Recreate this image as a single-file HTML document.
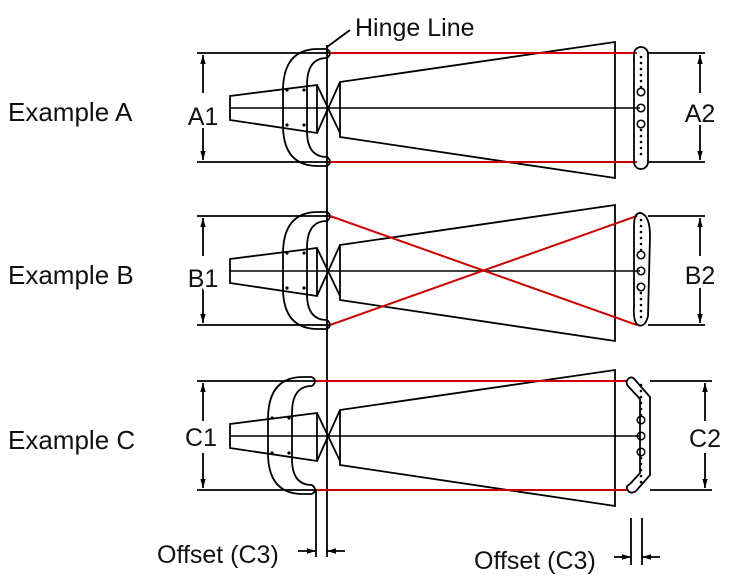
<!DOCTYPE html>
<html><head><style>body{margin:0;background:#fff}svg{display:block}text{font-family:"Liberation Sans",sans-serif;font-size:25px;fill:#111}</style></head>
<body>
<svg width="730" height="578" viewBox="0 0 730 578" xmlns="http://www.w3.org/2000/svg">
<defs>
<marker id="ar" viewBox="0 0 10 10" refX="10" refY="5" markerWidth="9" markerHeight="9" orient="auto-start-reverse" markerUnits="userSpaceOnUse"><path d="M0,2 L10,5 L0,8z" fill="#000"/></marker>
<g id="left">
 <line x1="197" y1="0" x2="330" y2="0" stroke="#000" stroke-width="1.8"/>
 <line x1="197" y1="109" x2="330" y2="109" stroke="#000" stroke-width="1.8"/>
 <line x1="203" y1="2" x2="203" y2="40" stroke="#000" stroke-width="1.8" marker-start="url(#ar)"/>
 <line x1="203" y1="72" x2="203" y2="107" stroke="#000" stroke-width="1.8" marker-end="url(#ar)"/>
 <path d="M230,43 L317,32 L317,80 L230,67 Z" fill="none" stroke="#000" stroke-width="1.8"/>
 <line x1="230" y1="55" x2="640" y2="55" stroke="#000" stroke-width="1.5"/>
 <path d="M317,32 L340,80 M317,80 L340,29" fill="none" stroke="#000" stroke-width="1.8"/>
 <path d="M340,29 L615,-11 L615,125 L340,84 Z" fill="none" stroke="#000" stroke-width="1.8"/>
</g>
<g id="br">
 <path d="M327,-4 L318,-4 Q283,-4 283,38 L283,72 Q283,113 318,113 L327,113" fill="none" stroke="#000" stroke-width="1.8"/>
 <path d="M327,5 Q307,5 307,32 L307,78 Q307,104 327,104" fill="none" stroke="#000" stroke-width="1.8"/>
 <path d="M327,-4 Q333,0 327,5 M327,104 Q333,109 327,113" fill="none" stroke="#000" stroke-width="1.8"/>
 <circle cx="287" cy="37" r="1.6"/><circle cx="304" cy="37" r="1.6"/><circle cx="287" cy="72" r="1.6"/><circle cx="304" cy="72" r="1.6"/>
</g>
<g id="dots">
 <g fill="#000"><circle cx="641" cy="4" r="1.3"/><circle cx="641" cy="10" r="1.3"/><circle cx="641" cy="16" r="1.3"/><circle cx="641" cy="22" r="1.3"/><circle cx="641" cy="28" r="1.3"/><circle cx="641" cy="34" r="1.3"/>
 <circle cx="641" cy="77" r="1.3"/><circle cx="641" cy="83" r="1.3"/><circle cx="641" cy="89" r="1.3"/><circle cx="641" cy="95" r="1.3"/><circle cx="641" cy="101" r="1.3"/></g>
 <g fill="none" stroke="#000" stroke-width="1.5"><circle cx="641" cy="39" r="3.8"/><circle cx="641" cy="55" r="3.8"/><circle cx="641" cy="71" r="3.8"/></g>
</g>
</defs>

<line x1="327" y1="45" x2="327" y2="557" stroke="#000" stroke-width="1.8"/>
<path d="M327,53 L327,47 L350,30" fill="none" stroke="#000" stroke-width="1.8"/>
<text x="355" y="36">Hinge Line</text>

<g transform="translate(0,53)">
 <use href="#left"/><use href="#br"/><use href="#dots"/>
 <line x1="330" y1="0" x2="637" y2="0" stroke="#c00" stroke-width="2"/>
 <line x1="330" y1="109" x2="637" y2="109" stroke="#c00" stroke-width="2"/>
 <rect x="634" y="-6" width="14" height="122" rx="7" fill="none" stroke="#000" stroke-width="1.8"/>
 <line x1="648" y1="0" x2="705" y2="0" stroke="#000" stroke-width="1.8"/>
 <line x1="648" y1="109" x2="705" y2="109" stroke="#000" stroke-width="1.8"/>
 <line x1="700" y1="2" x2="700" y2="40" stroke="#000" stroke-width="1.8" marker-start="url(#ar)"/>
 <line x1="700" y1="72" x2="700" y2="107" stroke="#000" stroke-width="1.8" marker-end="url(#ar)"/>
</g>
<text x="8" y="121" style="font-size:26px">Example A</text>
<text x="203" y="125" text-anchor="middle" style="paint-order:stroke;stroke:#fff;stroke-width:6px">A1</text>
<text x="700" y="122" text-anchor="middle" style="paint-order:stroke;stroke:#fff;stroke-width:6px">A2</text>

<g transform="translate(0,216)">
 <use href="#left"/><use href="#br"/><use href="#dots"/>
 <line x1="330" y1="0" x2="637" y2="109" stroke="#c00" stroke-width="2"/>
 <line x1="330" y1="109" x2="637" y2="0" stroke="#c00" stroke-width="2"/>
 <path d="M641,-3 Q650,0 650,20 L648,100 Q645,112 638,109 Q633,106 634,90 L634,10 Q634,-4 641,-3 Z" fill="none" stroke="#000" stroke-width="1.8"/>
 <line x1="648" y1="0" x2="705" y2="0" stroke="#000" stroke-width="1.8"/>
 <line x1="648" y1="109" x2="705" y2="109" stroke="#000" stroke-width="1.8"/>
 <line x1="700" y1="2" x2="700" y2="40" stroke="#000" stroke-width="1.8" marker-start="url(#ar)"/>
 <line x1="700" y1="72" x2="700" y2="107" stroke="#000" stroke-width="1.8" marker-end="url(#ar)"/>
</g>
<text x="8" y="284" style="font-size:26px">Example B</text>
<text x="203" y="287" text-anchor="middle" style="paint-order:stroke;stroke:#fff;stroke-width:6px">B1</text>
<text x="700" y="284" text-anchor="middle" style="paint-order:stroke;stroke:#fff;stroke-width:6px">B2</text>

<g transform="translate(0,381)">
 <use href="#left"/><use href="#dots"/>
 <g transform="translate(-15,0)"><use href="#br"/></g>
 <line x1="316" y1="0" x2="628" y2="0" stroke="#c00" stroke-width="2"/>
 <line x1="316" y1="109" x2="628" y2="109" stroke="#c00" stroke-width="2"/>
 <path d="M628,-2 Q632,-6 636,0 L650,16 L650,94 L636,110 Q630,114 627,108 Q626,105 630,103 L640,92 L640,18 L628,5 Q625,1 628,-2 Z" fill="none" stroke="#000" stroke-width="1.8"/>
 <line x1="650" y1="0" x2="712" y2="0" stroke="#000" stroke-width="1.8"/>
 <line x1="650" y1="109" x2="712" y2="109" stroke="#000" stroke-width="1.8"/>
 <line x1="705" y1="2" x2="705" y2="40" stroke="#000" stroke-width="1.8" marker-start="url(#ar)"/>
 <line x1="705" y1="72" x2="705" y2="107" stroke="#000" stroke-width="1.8" marker-end="url(#ar)"/>
</g>
<text x="8" y="449" style="font-size:26px">Example C</text>
<text x="201" y="446" text-anchor="middle" style="paint-order:stroke;stroke:#fff;stroke-width:6px">C1</text>
<text x="705" y="447" text-anchor="middle" style="paint-order:stroke;stroke:#fff;stroke-width:6px">C2</text>

<line x1="316" y1="490" x2="316" y2="557" stroke="#000" stroke-width="1.8"/>
<line x1="298" y1="551" x2="316" y2="551" stroke="#000" stroke-width="1.8" marker-end="url(#ar)"/>
<line x1="345" y1="551" x2="327" y2="551" stroke="#000" stroke-width="1.8" marker-end="url(#ar)"/>
<text x="157" y="563">Offset (C3)</text>
<line x1="631" y1="518" x2="631" y2="565" stroke="#000" stroke-width="1.8"/>
<line x1="642" y1="518" x2="642" y2="565" stroke="#000" stroke-width="1.8"/>
<line x1="614" y1="557" x2="631" y2="557" stroke="#000" stroke-width="1.8" marker-end="url(#ar)"/>
<line x1="660" y1="557" x2="642" y2="557" stroke="#000" stroke-width="1.8" marker-end="url(#ar)"/>
<text x="474" y="569">Offset (C3)</text>
</svg>
</body></html>
